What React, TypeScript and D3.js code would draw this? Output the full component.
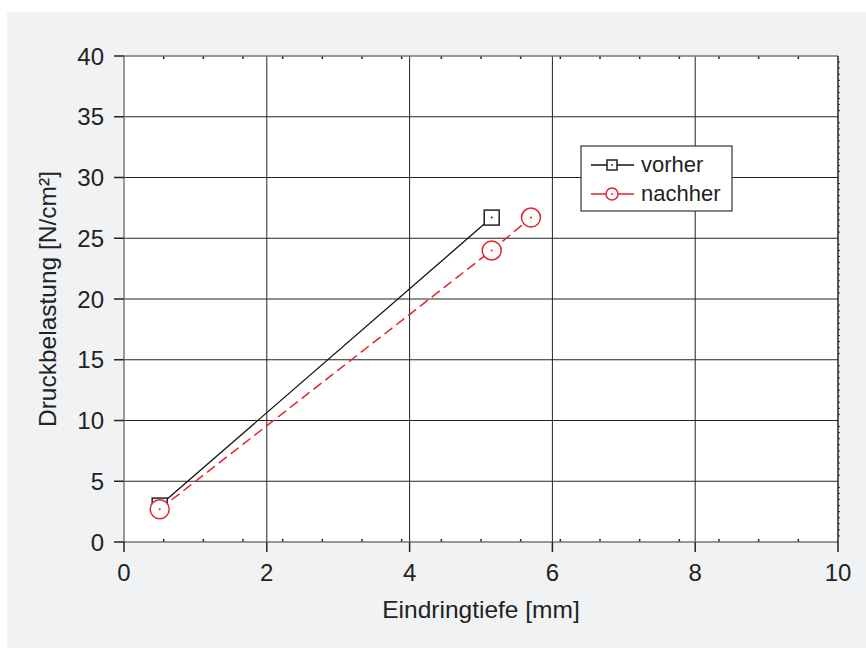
import React from "react";
import * as d3 from "d3";

// values
const vorherX = [0.5, 5.15];
const vorherY = [3.0, 26.7];
const nachherX = [0.5, 5.15, 5.7];
const nachherY = [2.7, 24.0, 26.7];

const xTicks = [0, 2, 4, 6, 8, 10];
const yTicks = [0, 5, 10, 15, 20, 25, 30, 35, 40];
const legendLabels = ["vorher", "nachher"];

const W = 866;
const H = 648;
const margin = { left: 124, top: 56, right: 28, bottom: 106 };
const RED = "#e4232b";
const FONT = "'Liberation Sans', Arial, Helvetica, sans-serif";

export default function App() {
  const x = d3.scaleLinear().domain([0, 10]).range([margin.left, W - margin.right]);
  const y = d3.scaleLinear().domain([0, 40]).range([H - margin.bottom, margin.top]);

  const [x0, x1] = x.range();
  const [y0, y1] = y.range();

  const line = d3
    .line<[number, number]>()
    .x((d) => x(d[0]))
    .y((d) => y(d[1]));

  const vorher = vorherX.map((v, i) => [v, vorherY[i]] as [number, number]);
  const nachher = nachherX.map((v, i) => [v, nachherY[i]] as [number, number]);

  // minor ticks: 18 steps on x, half units on y
  const xMinor = d3.range(1, 18).map((i) => (i * 10) / 18);
  const yMinor = d3.range(1, 80).map((i) => i * 0.5).filter((v) => v % 5 !== 0);

  const lgX = 581;
  const lgY = 146;

  return (
    <svg width={W} height={H} style={{ display: "block", position: "absolute", left: 0, top: 0 }}>
      <rect x={7} y={12} width={W - 7} height={H - 12} fill="#f1f2f4" />
      <rect x={x0} y={y1} width={x1 - x0} height={y0 - y1} fill="#fff" />

      {/* grid */}
      {xTicks.slice(1, -1).map((t) => (
        <line key={"gx" + t} x1={x(t)} x2={x(t)} y1={y1} y2={y0} stroke="#222" strokeWidth={1} />
      ))}
      {yTicks.slice(1, -1).map((t) => (
        <line key={"gy" + t} x1={x0} x2={x1} y1={y(t)} y2={y(t)} stroke="#222" strokeWidth={1} />
      ))}

      {/* minor ticks */}
      {xMinor.map((t) => (
        <g key={"mx" + t}>
          <line x1={x(t)} x2={x(t)} y1={y0} y2={y0 - 3} stroke="#222" strokeWidth={1.5} />
          <line x1={x(t)} x2={x(t)} y1={y1} y2={y1 + 3} stroke="#222" strokeWidth={1.5} />
        </g>
      ))}
      {yMinor.map((t) => (
        <line key={"my" + t} x1={x1} x2={x1 + 2} y1={y(t)} y2={y(t)} stroke="#333" strokeWidth={1} />
      ))}

      {/* frame */}
      <line x1={x0} x2={x1} y1={y1} y2={y1} stroke="#777" strokeWidth={1.5} />
      <line x1={x0} x2={x1} y1={y0} y2={y0} stroke="#777" strokeWidth={1.5} />
      <line x1={x0} x2={x0} y1={y1} y2={y0} stroke="#777" strokeWidth={1.5} />
      <line x1={x1} x2={x1} y1={y1} y2={y0} stroke="#222" strokeWidth={1.5} />

      {/* major ticks and labels */}
      {xTicks.map((t) => (
        <g key={"tx" + t}>
          <line x1={x(t)} x2={x(t)} y1={y0} y2={y0 + 10} stroke="#222" strokeWidth={1.5} />
          <text x={x(t)} y={y0 + 39} textAnchor="middle" fontFamily={FONT} fontSize={24} fill="#222">
            {t}
          </text>
        </g>
      ))}
      {yTicks.map((t) => (
        <g key={"ty" + t}>
          <line x1={x0 - 10} x2={x0} y1={y(t)} y2={y(t)} stroke="#222" strokeWidth={1.5} />
          <text x={x0 - 20} y={y(t) + 8.5} textAnchor="end" fontFamily={FONT} fontSize={24} fill="#222">
            {t}
          </text>
        </g>
      ))}

      {/* axis titles */}
      <text x={(x0 + x1) / 2} y={618} textAnchor="middle" fontFamily={FONT} fontSize={24.5} fill="#222">
        Eindringtiefe [mm]
      </text>
      <text
        transform={`translate(56,${(y0 + y1) / 2}) rotate(-90)`}
        textAnchor="middle"
        fontFamily={FONT}
        fontSize={24.5}
        fill="#222"
      >
        Druckbelastung [N/cm²]
      </text>

      {/* series */}
      <path d={line(vorher) ?? ""} fill="none" stroke="#111" strokeWidth={1.3} />
      <path d={line(nachher) ?? ""} fill="none" stroke={RED} strokeWidth={1.5} strokeDasharray="10,5" />

      {vorher.map((d, i) => (
        <g key={"sq" + i}>
          <rect x={x(d[0]) - 7.5} y={y(d[1]) - 7.5} width={15} height={15} fill="#fff" stroke="#222" strokeWidth={1.5} />
          <circle cx={x(d[0])} cy={y(d[1])} r={1} fill="#222" />
        </g>
      ))}
      {nachher.map((d, i) => (
        <g key={"ci" + i}>
          <circle cx={x(d[0])} cy={y(d[1])} r={9.5} fill="#fff" stroke={RED} strokeWidth={1.5} />
          <circle cx={x(d[0])} cy={y(d[1])} r={1} fill={RED} />
        </g>
      ))}

      {/* legend */}
      <rect x={lgX} y={lgY} width={151} height={65} fill="#fff" stroke="#333" strokeWidth={1.2} />
      <line x1={lgX + 10} x2={lgX + 53} y1={lgY + 19} y2={lgY + 19} stroke="#111" strokeWidth={1.5} />
      <rect x={lgX + 26} y={lgY + 14} width={10} height={10} fill="#fff" stroke="#222" strokeWidth={1.5} />
      <circle cx={lgX + 31} cy={lgY + 19} r={0.9} fill="#222" />
      <line x1={lgX + 10} x2={lgX + 53} y1={lgY + 48} y2={lgY + 48} stroke={RED} strokeWidth={1.5} />
      <circle cx={lgX + 31} cy={lgY + 48} r={6} fill="#fff" stroke={RED} strokeWidth={1.5} />
      <circle cx={lgX + 31} cy={lgY + 48} r={0.9} fill={RED} />
      {legendLabels.map((l, i) => (
        <text key={l} x={lgX + 60} y={lgY + 26 + i * 28.5} fontFamily={FONT} fontSize={22} fill="#222">
          {l}
        </text>
      ))}
    </svg>
  );
}
